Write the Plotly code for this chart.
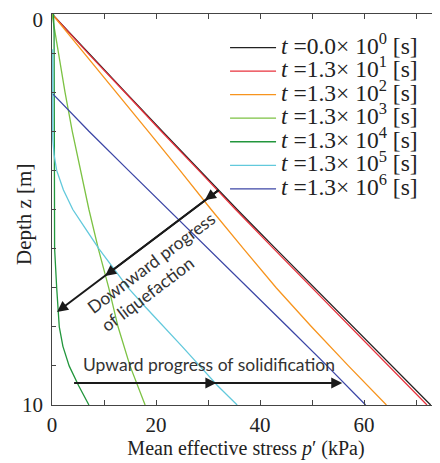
import plotly.graph_objects as go

# ---------------- data ----------------
z_full = [0, 1, 2, 3, 4, 5, 6, 7, 8, 9, 10]
p_t0 = [0, 7.0, 14.1, 21.2, 28.4, 35.6, 43.0, 50.5, 58.0, 65.4, 72.8]
p_t1 = [0, 6.9, 14.0, 21.0, 28.2, 35.3, 42.6, 50.0, 57.4, 64.7, 72.1]
p_t2 = [0, 6.2, 12.4, 18.5, 24.6, 30.6, 36.8, 43.1, 49.9, 57.0, 64.3]
p_t3 = [0, 1.2, 2.5, 3.9, 5.5, 7.1, 8.9, 10.9, 12.7, 15.0, 17.9]

z_t4 = [0, 0.5, 3, 6, 7, 7.5, 8, 8.5, 9, 9.5, 10]
p_t4 = [0.3, 0.4, 0.45, 0.5, 0.9, 1.1, 1.4, 2.1, 3.3, 5.1, 7.1]

z_t5 = [0.9, 3.2, 3.6, 4, 4.5, 5, 5.5, 6, 6.5, 7, 7.5, 8, 8.5, 9, 9.5, 10]
p_t5 = [0.15, 0.15, 0.4, 0.9, 2.2, 4.0, 6.5, 9.0, 11.8, 14.6, 18.0, 21.6, 25.0, 28.4, 31.8, 35.6]

z_t6 = [2.05, 3, 4, 5, 6, 7, 8, 9, 10]
p_t6 = [0.2, 7.1, 14.7, 22.4, 30.0, 37.7, 45.3, 52.9, 60.3]

labels = [
    ("0.0", "0"), ("1.3", "1"), ("1.3", "2"), ("1.3", "3"),
    ("1.3", "4"), ("1.3", "5"), ("1.3", "6"),
]
colors = ["#222222", "#e8323c", "#f7941d", "#7cc243", "#22963c", "#62c9dc", "#3c46a6"]

series = [
    (z_full, p_t0), (z_full, p_t1), (z_full, p_t2), (z_full, p_t3),
    (z_t4, p_t4), (z_t5, p_t5), (z_t6, p_t6),
]

x_tickvals = [0, 20, 40, 60]
x_ticktext = ["0", "20", "40", "60"]
x_minorvals = [10, 30, 50, 70]
y_tickvals = [0, 1, 2, 3, 4, 5, 6, 7, 8, 9, 10]
y_labelvals = [0.14, 10]
y_labeltext = ["0", "10"]

SERIF = "Liberation Serif, Times New Roman, serif"
SANS = "Lato, Open Sans, sans-serif"
AX = "#444444"

fig = go.Figure()
for (zz, pp), (m, e), c in zip(series, labels, colors):
    name = ('<span style="font-size:23.5px"><i>t</i> =%s\u00d7 10<sup>%s</sup> [s]</span>' % (m, e))
    fig.add_trace(go.Scatter(x=pp, y=zz, mode="lines", name=name,
                             line=dict(color=c, width=1.3)))

# dummy traces for the extra tick axes
fig.add_trace(go.Scatter(x=[None], y=[None], yaxis="y2", showlegend=False,
                         hoverinfo="skip"))
fig.add_trace(go.Scatter(x=[None], y=[None], yaxis="y3", showlegend=False,
                         hoverinfo="skip"))

# the page body has an 8px margin: margins below compensate for it
fig.update_layout(
    width=440, height=463,
    margin=dict(l=44, r=8, t=6, b=66),
    paper_bgcolor="white", plot_bgcolor="white",
    font=dict(family=SERIF, color="#222222", size=20),
    showlegend=True,
    legend=dict(x=0.446, y=0.957, xanchor="left", yanchor="top",
                bgcolor="rgba(255,255,255,0)", borderwidth=0,
                font=dict(family=SERIF, size=15.8, color="#222222"),
                itemwidth=46, tracegroupgap=0),
    xaxis=dict(range=[0, 74.6], tickmode="array", tickvals=x_tickvals,
               ticktext=x_ticktext, ticks="inside", ticklen=5, tickwidth=1,
               tickcolor=AX, showline=True, linecolor=AX, linewidth=1.3,
               mirror="ticks", showgrid=False, zeroline=False,
               minor=dict(tickvals=x_minorvals, ticks="inside", ticklen=5,
                          tickwidth=1, tickcolor=AX, showgrid=False),
               automargin=False, ticklabelstandoff=1,
               ticklabeloverflow="allow",
               tickfont=dict(family=SERIF, size=21, color="#222222"),
               title=dict(text="Mean effective stress <i>p</i>\u2032 (kPa)",
                          font=dict(family=SERIF, size=20, color="#222222"),
                          standoff=4)),
    yaxis=dict(range=[10, 0], tickmode="array", tickvals=y_tickvals,
               ticks="inside", ticklen=4, tickwidth=1, showticklabels=False,
               tickcolor=AX, showline=True, linecolor=AX, linewidth=1.3,
               mirror=False, showgrid=False, zeroline=False,
               automargin=False),
    yaxis2=dict(range=[10, 0], overlaying="y", side="right", anchor="x",
                tickmode="array", tickvals=[2, 4, 6, 8], ticks="inside",
                ticklen=6, tickcolor=AX, showticklabels=False, showline=False,
                showgrid=False, zeroline=False, automargin=False,
                minor=dict(tickvals=[1, 3, 5, 7, 9], ticks="inside",
                           ticklen=3, tickcolor=AX)),
    yaxis3=dict(range=[10, 0], overlaying="y", side="left", anchor="x",
                tickmode="array", tickvals=y_labelvals, ticktext=y_labeltext,
                ticks="", showline=False, showgrid=False, zeroline=False,
                automargin=False, ticklabelstandoff=8,
                ticklabeloverflow="allow",
                tickfont=dict(family=SERIF, size=21, color="#222222")),
)

# y-axis title (placed as text so that it can sit beside the tick labels)
fig.add_annotation(x=-0.072, y=0.486, xref="paper", yref="paper",
                   xanchor="center", yanchor="middle",
                   showarrow=False, text="Depth z [m]", textangle=-90,
                   font=dict(family=SERIF, size=21, color="#222222"))

# arrows: downward progress of liquefaction
ARROW = "#1a1a1a"
tail = (32.3, 4.48)
for tip in [(29.4, 4.76), (10.2, 6.70), (0.96, 7.62)]:
    fig.add_annotation(x=tip[0], y=tip[1], ax=tail[0], ay=tail[1],
                       xref="x", yref="y", axref="x", ayref="y",
                       text="", showarrow=True, arrowhead=2, arrowsize=1.1,
                       arrowwidth=2, arrowcolor=ARROW, standoff=0)
# arrows: upward progress of solidification
tail2 = (4.0, 9.44)
for tip in [(31.6, 9.44), (55.8, 9.44)]:
    fig.add_annotation(x=tip[0], y=tip[1], ax=tail2[0], ay=tail2[1],
                       xref="x", yref="y", axref="x", ayref="y",
                       text="", showarrow=True, arrowhead=2, arrowsize=1.1,
                       arrowwidth=2, arrowcolor=ARROW, standoff=0)

fig.add_annotation(x=20.4, y=6.6, xref="x", yref="y", showarrow=False,
                   text="Downward progress<br>of liquefaction", align="left",
                   textangle=-37, font=dict(family=SANS, size=17.5, color="#333333"))
fig.add_annotation(x=30.2, y=8.97, xref="x", yref="y", showarrow=False,
                   text="Upward progress of solidification",
                   font=dict(family=SANS, size=17.5, color="#333333"))

fig.write_html("out.html")
